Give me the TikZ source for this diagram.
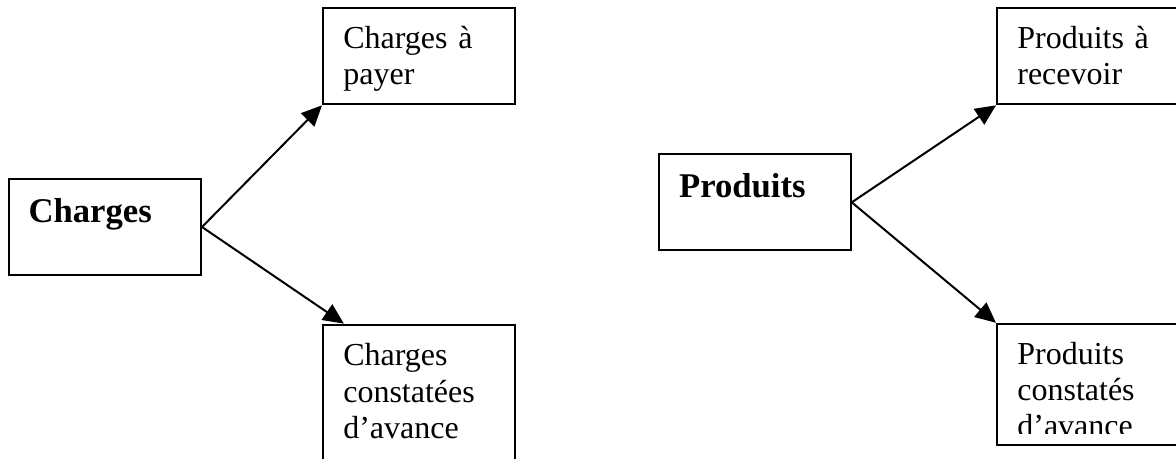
\documentclass[tikz,border=0pt]{standalone}
\usepackage{fontspec}
\setmainfont{Liberation Serif}
\usepackage{tikz}
\usetikzlibrary{arrows.meta, positioning}
\tikzset{
  boite/.style={draw, line width=0.75pt, rectangle, minimum width=72pt, minimum height=36pt, inner sep=0pt, anchor=north west},
  texte/.style={anchor=base west, inner sep=0pt, text width=62pt, align=left, font=\fontsize{12}{13.6}\selectfont},
  titre/.style={anchor=base west, inner sep=0pt, font=\fontsize{13}{15}\selectfont\bfseries},
  fleche/.style={-{Triangle[length=7.7pt, width=7pt]}, line width=0.75pt}
}

\begin{document}
\begin{tikzpicture}

\clip (0,0) rectangle (441pt,-172.125pt);

% Nodes
\node[boite] (charges) at (3pt,-66.75pt) {};
\node[boite, above right=27.25pt and 45pt of charges] (cap) {};
\node[boite, below right=17.85pt and 45pt of charges, minimum height=54pt] (cca) {};
\node[boite, right=170.9pt of charges, yshift=9.25pt, anchor=west] (produits) {};
\node[boite, above right=18pt and 54.1pt of produits] (par) {};
\node[boite, below right=26.8pt and 54.1pt of produits, minimum height=45.3pt] (pca) {};

% Texts
\node[titre] (charges-t) at ([xshift=7.5pt, yshift=-16.8pt]charges.north west) {Charges};
\node[texte] (cap-t) at ([xshift=7.8pt, yshift=-15.3pt]cap.north west) {Charges à\\payer};
\node[texte] (cca-t) at ([xshift=7.8pt, yshift=-15.8pt]cca.north west) {Charges\\constatées\\d’avance};
\node[titre] (produits-t) at ([xshift=7.8pt, yshift=-16.4pt]produits.north west) {Produits};
\node[texte] (par-t) at ([xshift=7.8pt, yshift=-15.3pt]par.north west) {Produits à\\recevoir};
\begin{scope}
  \clip (pca.north west) rectangle ([yshift=4.7pt]pca.south east);
  \node[texte] (pca-t) at ([xshift=7.8pt, yshift=-15.6pt]pca.north west) {Produits\\constatés\\d’avance};
\end{scope}

% Edges
\draw[fleche] (charges.east) -- (cap.south west);
\draw[fleche] (charges.east) -- ([xshift=8.2pt]cca.north west);
\draw[fleche] (produits.east) -- (par.south west);
\draw[fleche] (produits.east) -- (pca.north west);

\end{tikzpicture}
\end{document}
